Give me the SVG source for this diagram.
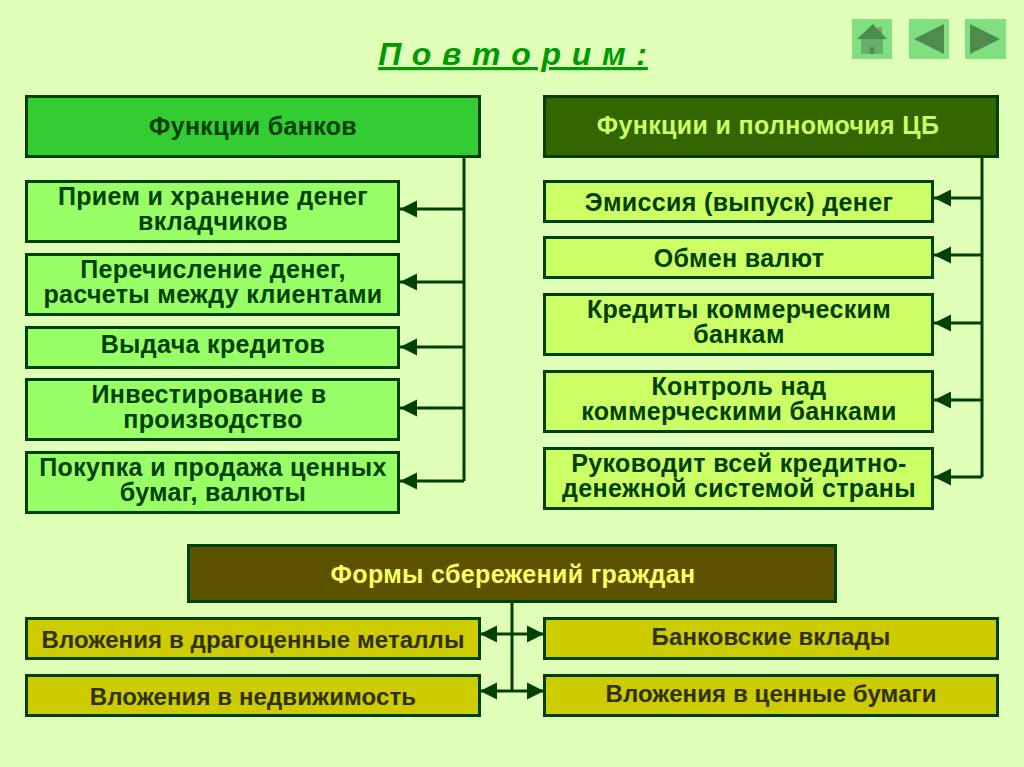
<svg xmlns="http://www.w3.org/2000/svg" width="1024" height="767" viewBox="0 0 1024 767">
<defs>
<marker id="ah" markerUnits="userSpaceOnUse" markerWidth="18" markerHeight="18" refX="17" refY="9" orient="auto-start-reverse"><path d="M0 0.5L17 9L0 17.5Z" fill="#004000"/></marker>
</defs>
<style>
.b{stroke:#004000;stroke-width:3}
.c{fill:none;stroke:#004000;stroke-width:3}
.a{marker-end:url(#ah)}
text{font-family:"Liberation Sans",Arial,sans-serif;font-weight:700;font-size:25px;text-anchor:middle;fill:#004000;letter-spacing:.35px}
.s text{font-size:24px;letter-spacing:.1px;fill:#303000}
.l{fill:#99ff66}.y{fill:#ccff66}.o{fill:#cccc00}
.nav{fill:#80e080}.ni{fill:#4f8a4f}
</style>
<rect width="1024" height="767" fill="#e0ffb8"/>
<text id="title" x="513" y="65" style="font-size:32px;font-style:italic;fill:#009900;letter-spacing:.9px;text-decoration:underline">П о в т о р и м :</text>
<g id="nav-home"><rect class="nav" x="852" y="19" width="40" height="40"/><rect x="878" y="27" width="4" height="8" fill="#68ad68"/><path class="ni" d="M857 39L873 24L887 39Z"/><rect x="861" y="39" width="22" height="15" fill="#68ad68"/><rect class="ni" x="870" y="47" width="4" height="7"/></g>
<g id="nav-back"><rect class="nav" x="909" y="19" width="40" height="40"/><path class="ni" d="M914 39L944 24V54Z"/></g>
<g id="nav-next"><rect class="nav" x="965" y="19" width="41" height="40"/><path class="ni" d="M970 24L1000 39L970 54Z"/></g>
<g id="connectors">
<path class="c" d="M464 157V481"/>
<path class="c a" d="M464 209H400"/><path class="c a" d="M464 282H400"/><path class="c a" d="M464 347H400"/><path class="c a" d="M464 408H400"/><path class="c a" d="M464 481H400"/>
<path class="c" d="M982 157V477"/>
<path class="c a" d="M982 198H934"/><path class="c a" d="M982 255H934"/><path class="c a" d="M982 323H934"/><path class="c a" d="M982 400H934"/><path class="c a" d="M982 477H934"/>
<path class="c" d="M512 602V691"/>
<path class="c a" d="M512 634H480"/><path class="c a" d="M512 634H544"/><path class="c a" d="M512 691H480"/><path class="c a" d="M512 691H544"/>
</g>
<g id="n1"><rect class="b" x="26.500" y="96.500" width="453" height="60" fill="#33cc33"/><text x="253" y="135">Функции банков</text></g>
<g id="n2"><rect class="b" x="544.500" y="96.500" width="453" height="60" fill="#336600"/><text x="768" y="134" style="fill:#ccff66">Функции и полномочия ЦБ</text></g>
<g id="n3"><rect class="b l" x="26.500" y="181.500" width="372" height="60"/><text><tspan x="213" y="205">Прием и хранение денег</tspan><tspan x="213" y="230">вкладчиков</tspan></text></g>
<g id="n4"><rect class="b l" x="26.500" y="254.500" width="372" height="60"/><text><tspan x="213" y="278">Перечисление денег,</tspan><tspan x="213" y="303">расчеты между клиентами</tspan></text></g>
<g id="n5"><rect class="b l" x="26.500" y="327.500" width="372" height="40"/><text x="213" y="353">Выдача кредитов</text></g>
<g id="n6"><rect class="b l" x="26.500" y="379.500" width="372" height="60"/><text><tspan x="209" y="403">Инвестирование в</tspan><tspan x="213" y="428">производство</tspan></text></g>
<g id="n7"><rect class="b l" x="26.500" y="452.500" width="372" height="60"/><text><tspan x="213" y="476">Покупка и продажа ценных</tspan><tspan x="213" y="501">бумаг, валюты</tspan></text></g>
<g id="n8"><rect class="b y" x="544.500" y="181.500" width="388" height="40"/><text x="739" y="211">Эмиссия (выпуск) денег</text></g>
<g id="n9"><rect class="b y" x="544.500" y="237.500" width="388" height="40"/><text x="739" y="267">Обмен валют</text></g>
<g id="n10"><rect class="b y" x="544.500" y="294.500" width="388" height="60"/><text><tspan x="739" y="318">Кредиты коммерческим</tspan><tspan x="739" y="343">банкам</tspan></text></g>
<g id="n11"><rect class="b y" x="544.500" y="371.500" width="388" height="60"/><text><tspan x="739" y="395">Контроль над</tspan><tspan x="739" y="420">коммерческими банками</tspan></text></g>
<g id="n12"><rect class="b y" x="544.500" y="448.500" width="388" height="60"/><text><tspan x="739" y="472">Руководит всей кредитно-</tspan><tspan x="739" y="497">денежной системой страны</tspan></text></g>
<g id="n13"><rect class="b" x="188.500" y="545.500" width="647" height="56" fill="#5c5200"/><text x="513" y="583" style="fill:#ffff66">Формы сбережений граждан</text></g>
<g id="n14" class="s"><rect class="b o" x="26.500" y="618.500" width="453" height="40"/><text x="253" y="648">Вложения в драгоценные металлы</text></g>
<g id="n15" class="s"><rect class="b o" x="544.500" y="618.500" width="453" height="40"/><text x="771" y="645">Банковские вклады</text></g>
<g id="n16" class="s"><rect class="b o" x="26.500" y="675.500" width="453" height="40"/><text x="253" y="705">Вложения в недвижимость</text></g>
<g id="n17" class="s"><rect class="b o" x="544.500" y="675.500" width="453" height="40"/><text x="771" y="702">Вложения в ценные бумаги</text></g>
</svg>
